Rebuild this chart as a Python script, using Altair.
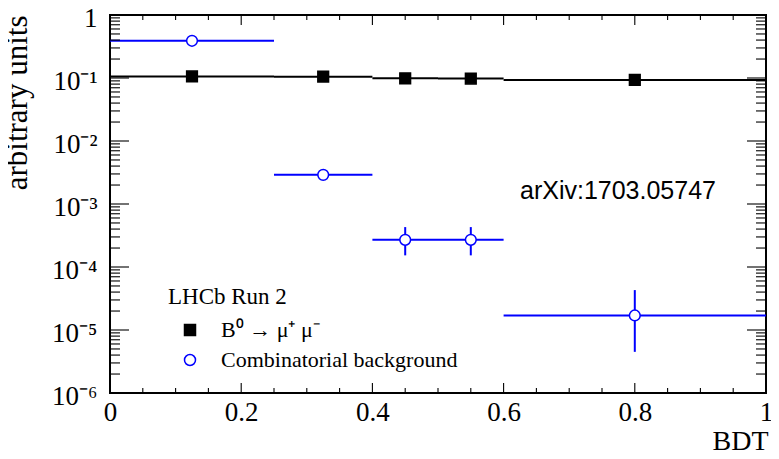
import json
import altair as alt
import pandas as pd

# ---- data ----
bin_lo = [0.0, 0.25, 0.4, 0.5, 0.6]
bin_hi = [0.25, 0.4, 0.5, 0.6, 1.0]
bin_center = [0.125, 0.325, 0.45, 0.55, 0.8]
sig_val = [0.106, 0.105, 0.099, 0.098, 0.093]
bkg_val = [0.39, 0.0029, 0.00027, 0.00027, 1.7e-5]
bkg_err_lo = [None, None, 0.000153, 0.000153, 4.5e-6]
bkg_err_hi = [None, None, 0.00043, 0.00043, 4.3e-5]

SIG = "B⁰ → μ⁺ μ⁻"
BKG = "Combinatorial background"
series_names = [SIG, BKG]
legend_title = "LHCb Run 2"
annotation = ["arXiv:1703.05747"]

x_major = [0.0, 0.2, 0.4, 0.6, 0.8, 1.0]
x_minor = [0.05, 0.1, 0.15, 0.25, 0.3, 0.35, 0.45, 0.5, 0.55, 0.65, 0.7, 0.75, 0.85, 0.9, 0.95]
y_major = [1e-6, 1e-5, 1e-4, 1e-3, 1e-2, 1e-1, 1.0]
y_minor = [m * d for d in [1e-6, 1e-5, 1e-4, 1e-3, 1e-2, 1e-1] for m in range(2, 10)]
y_labels = ["10⁻⁶", "10⁻⁵", "10⁻⁴", "10⁻³", "10⁻²", "10⁻¹", "1"]

W, H = 656, 378
PAD = {"left": 102, "top": 7, "right": 5, "bottom": 58}
SERIF = "Liberation Serif"
BLUE = "#0000ff"

sig_df = pd.DataFrame({"lo": bin_lo, "hi": bin_hi, "x": bin_center, "val": sig_val, "series": SIG})
bkg_df = pd.DataFrame({"lo": bin_lo, "hi": bin_hi, "x": bin_center, "val": bkg_val, "series": BKG,
                       "elo": bkg_err_lo, "ehi": bkg_err_hi})
pts_df = pd.concat([sig_df, bkg_df[["lo", "hi", "x", "val", "series"]]], ignore_index=True)
yerr_df = bkg_df.dropna(subset=["elo", "ehi"])

xscale = alt.Scale(domain=[0, 1], nice=False, zero=False)
yscale = alt.Scale(type="log", domain=[1e-6, 1], nice=False)

xaxis = alt.Axis(values=x_major, format="~g", tickSize=0, domain=False, grid=False,
                 labelFont=SERIF, labelFontSize=27, labelColor="black", labelPadding=6,
                 labelFlush=False, labelOverlap=False, labelBaseline="top", labelBound=False,
                 title="BDT", titleFont=SERIF, titleFontSize=28, titleFontWeight="normal",
                 titleColor="black", titleAnchor="end", titleAlign="right",
                 titleX=W + 2, titleY=56, titleBaseline="alphabetic")
yaxis = alt.Axis(values=y_major,
                 labelExpr=json.dumps(y_labels, ensure_ascii=False) + "[round(log(datum.value)/LN10)+6]",
                 tickSize=0, domain=False, grid=False,
                 labelFont=SERIF, labelFontSize=27, labelColor="black", labelPadding=13,
                 labelFlush=False, labelOverlap=False, labelOffset=3, labelBound=False,
                 title="arbitrary units", titleFont=SERIF, titleFontSize=31, titleFontWeight="normal",
                 titleColor="black", titleAngle=270, titleAlign="right", titleBaseline="alphabetic",
                 titleX=-84, titleY=0)

X = lambda f: alt.X(f, scale=xscale, axis=xaxis)
Y = lambda f: alt.Y(f, scale=yscale, axis=yaxis)

sig_bar = alt.Chart(sig_df).mark_rule(color="black", strokeWidth=2).encode(
    x=X("lo:Q"), x2="hi:Q", y=Y("val:Q"),
)
bkg_bar = alt.Chart(bkg_df).mark_rule(color=BLUE, strokeWidth=2).encode(
    x=X("lo:Q"), x2="hi:Q", y=Y("val:Q"),
)
bkg_yerr = alt.Chart(yerr_df).mark_rule(color=BLUE, strokeWidth=2).encode(
    x=X("x:Q"), y=Y("elo:Q"), y2="ehi:Q",
)

legend = alt.Legend(title=legend_title, orient="none", legendX=58, legendY=271,
                    titleFont=SERIF, titleFontSize=23, titleFontWeight="normal", titleColor="black",
                    labelFont=SERIF, labelFontSize=22, labelColor="black", labelLimit=500,
                    symbolSize=121, symbolStrokeWidth=1.5, symbolOffset=11, labelOffset=20,
                    rowPadding=8, titlePadding=10, padding=0)

points = alt.Chart(pts_df).mark_point(opacity=1, strokeWidth=1.5, size=115).encode(
    x=X("x:Q"), y=Y("val:Q"),
    shape=alt.Shape("series:N", scale=alt.Scale(domain=series_names, range=["square", "circle"]), legend=legend),
    fill=alt.Fill("series:N", scale=alt.Scale(domain=series_names, range=["black", "white"]), legend=legend),
    stroke=alt.Stroke("series:N", scale=alt.Scale(domain=series_names, range=["black", BLUE]), legend=legend),
)

def xticks(vals, length):
    df = pd.DataFrame({"t": vals})
    base = alt.Chart(df).mark_rule(color="black", strokeWidth=1.1)
    bottom = base.encode(x=X("t:Q"), y=alt.value(H), y2=alt.value(H - length))
    top = base.encode(x=X("t:Q"), y=alt.value(0), y2=alt.value(length))
    return [bottom, top]

def yticks(vals, length):
    df = pd.DataFrame({"t": vals})
    base = alt.Chart(df).mark_rule(color="black", strokeWidth=1.1)
    left = base.encode(y=Y("t:Q"), x=alt.value(0), x2=alt.value(length))
    right = base.encode(y=Y("t:Q"), x=alt.value(W - length), x2=alt.value(W))
    return [left, right]

tick_layers = xticks(x_major, 10) + xticks(x_minor, 5) + yticks(y_major, 19) + yticks(y_minor, 10)

note = alt.Chart(pd.DataFrame({"txt": annotation})).mark_text(
    align="left", baseline="alphabetic", font="Liberation Sans", fontSize=25, color="black"
).encode(x=alt.value(410), y=alt.value(184), text="txt:N")

chart = alt.layer(sig_bar, bkg_bar, bkg_yerr, *tick_layers, points, note).properties(
    width=W, height=H,
    padding=PAD,
    autosize=alt.AutoSizeParams(type="none"),
    background="white",
).configure_view(stroke="black", strokeWidth=2)

chart.save("out.html", embed_options={"renderer": "svg", "actions": False})
